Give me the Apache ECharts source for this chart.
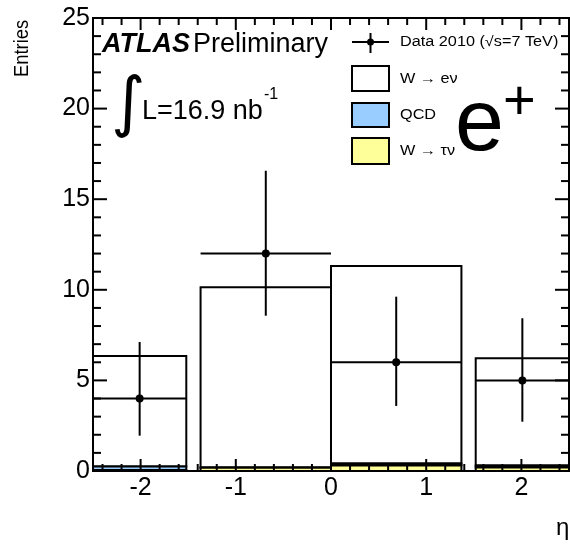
<!DOCTYPE html>
<html>
<head>
<meta charset="utf-8">
<script src="https://cdn.jsdelivr.net/npm/echarts@6/dist/echarts.min.js"></script>
<style>
html,body{margin:0;padding:0;background:#fff;}
#chart{width:570px;height:548px;}
</style>
</head>
<body>
<div id="chart"></div>
<script>
// ---- data ----
const binLo = [-2.5, -1.37, 0, 1.52];
const binHi = [-1.52, 0, 1.37, 2.5];
const wtaunu = [0.05, 0.18, 0.30, 0.20];   // W -> tau nu (yellow)
const qcd    = [0.20, 0.02, 0.12, 0.10];   // QCD (blue)
const wenu   = [6.10, 9.94, 10.89, 5.92];  // W -> e nu (white)
const dataX    = [-2.01, -0.685, 0.685, 2.01];
const dataY    = [4, 12, 6, 5];
const dataLow  = [1.95, 8.57, 3.59, 2.72];
const dataHigh = [7.12, 16.57, 9.62, 8.43];
const xRange = [-2.5, 2.5];
const yRange = [0, 25];
const xMajorTicks = [-2, -1, 0, 1, 2];
const xMinorTicks = [-2.4,-2.2,-1.8,-1.6,-1.4,-1.2,-0.8,-0.6,-0.4,-0.2,0.2,0.4,0.6,0.8,1.2,1.4,1.6,1.8,2.2,2.4];
const yMajorTicks = [0, 5, 10, 15, 20, 25];
const yMinorTicks = [1,2,3,4,6,7,8,9,11,12,13,14,16,17,18,19,21,22,23,24];
const legendLabels = ['Data 2010 (\u221As=7 TeV)', 'W \u2192 e\u03BD', 'QCD', 'W \u2192 \u03C4\u03BD'];

const FONT = 'Liberation Sans, Arial, Helvetica, sans-serif';

// ---- frame layout ----
const W = 570, H = 548;
const G = { left: 93, right: 1, top: 18, bottom: 77 };
const plotW = W - G.left - G.right;
const pxPerUnit = plotW / (xRange[1] - xRange[0]);

function stackBoxes(layers, idx) {
  return binLo.map((lo, i) => {
    let base = 0;
    for (let k = 0; k < idx; k++) base += layers[k][i];
    return [lo, binHi[i], base, base + layers[idx][i]];
  });
}
const layers = [wtaunu, qcd, wenu];
const fills = ['#ffff99', '#99ccff', '#ffffff'];

function boxSeries(idx) {
  return {
    type: 'custom', xAxisIndex: 0, yAxisIndex: 0, clip: true, z: 1,
    encode: { x: [0, 1], y: [2, 3] },
    data: stackBoxes(layers, idx),
    renderItem: function (params, api) {
      const p1 = api.coord([api.value(0), api.value(3)]);
      const p2 = api.coord([api.value(1), api.value(2)]);
      return {
        type: 'rect',
        shape: { x: p1[0], y: p1[1], width: p2[0] - p1[0], height: p2[1] - p1[1] },
        style: { fill: fills[idx], stroke: '#000', lineWidth: 2 }
      };
    }
  };
}

function seg(x1, y1, x2, y2) {
  return { type: 'line', shape: { x1: x1, y1: y1, x2: x2, y2: y2 }, style: { stroke: '#000', lineWidth: 2 } };
}

const dataSeries = {
  type: 'custom', xAxisIndex: 0, yAxisIndex: 0, clip: true, z: 4,
  encode: { x: [0, 4, 5], y: [1, 2, 3] },
  data: dataX.map((x, i) => [x, dataY[i], dataLow[i], dataHigh[i], binLo[i], binHi[i]]),
  renderItem: function (params, api) {
    const x = api.value(0), y = api.value(1);
    const c = api.coord([x, y]);
    const a = api.coord([api.value(4), y]);
    const b = api.coord([api.value(5), y]);
    const d = api.coord([x, api.value(2)]);
    const t = api.coord([x, api.value(3)]);
    return {
      type: 'group',
      children: [
        seg(a[0], a[1], b[0], b[1]),
        seg(t[0], t[1], d[0], d[1]),
        { type: 'circle', shape: { cx: c[0], cy: c[1], r: 4 }, style: { fill: '#000' } }
      ]
    };
  }
};

// ---- grids / axes ----
const grids = [
  Object.assign({ show: true, borderColor: '#000', borderWidth: 2, backgroundColor: 'transparent', containLabel: false }, G),
  { left: G.left + (xMajorTicks[0] - xRange[0]) * pxPerUnit,
    right: G.right + (xRange[1] - xMajorTicks[xMajorTicks.length - 1]) * pxPerUnit,
    top: G.top, bottom: G.bottom, containLabel: false }
];
const xAxes = [
  { gridIndex: 0, type: 'value', min: xRange[0], max: xRange[1], splitLine: { show: false },
    axisLine: { show: false }, axisTick: { show: false }, axisLabel: { show: false } },
  { gridIndex: 1, type: 'value', position: 'bottom', min: xMajorTicks[0], max: xMajorTicks[xMajorTicks.length - 1], interval: 1,
    splitLine: { show: false }, axisLine: { show: false }, axisTick: { show: false },
    axisLabel: { show: true, color: '#000', fontSize: 25, fontFamily: FONT, margin: 5 } }
];
const yAxes = [
  { gridIndex: 0, type: 'value', min: yRange[0], max: yRange[1], interval: 5, splitLine: { show: false },
    axisLine: { show: false }, axisTick: { show: false },
    axisLabel: { show: true, color: '#000', fontSize: 25, fontFamily: FONT, margin: 3 } },
  { gridIndex: 1, type: 'value', show: false, min: 0, max: 1 }
];

// ---- text / legend ----
const lgX = 352, lgW = 37;
const legFont = '14px ' + FONT;
const graphics = [
  { type: 'text', left: 102, top: 31, z: 20, style: { text: 'ATLAS', font: 'italic bold 27px ' + FONT, fill: '#000' } },
  { type: 'text', left: 193, top: 31, z: 20, style: { text: 'Preliminary', font: '27px ' + FONT, fill: '#000' } },
  { type: 'text', left: 111, top: 74, z: 20, style: { text: '\u222B', font: '66px DejaVu Sans', fill: '#000' } },
  { type: 'text', left: 142, top: 98, z: 20, style: { text: 'L=16.9 nb', font: '27px ' + FONT, fill: '#000' } },
  { type: 'text', left: 264, top: 87, z: 20, style: { text: '-1', font: '16px ' + FONT, fill: '#000' } },
  { type: 'line', z: 20, shape: { x1: lgX, y1: 42, x2: lgX + lgW, y2: 42 }, style: { stroke: '#000', lineWidth: 2 } },
  { type: 'line', z: 20, shape: { x1: lgX + lgW / 2, y1: 33, x2: lgX + lgW / 2, y2: 53 }, style: { stroke: '#000', lineWidth: 2 } },
  { type: 'circle', z: 20, shape: { cx: lgX + lgW / 2, cy: 42, r: 3.5 }, style: { fill: '#000' } },
  { type: 'text', x: 400, y: 35, scaleX: 1.16, z: 20, style: { text: legendLabels[0], font: legFont, fill: '#000' } },
  { type: 'rect', z: 20, shape: { x: lgX, y: 66, width: lgW, height: 25 }, style: { fill: fills[2], stroke: '#000', lineWidth: 2 } },
  { type: 'text', x: 400, y: 72, scaleX: 1.16, z: 20, style: { text: legendLabels[1], font: legFont, fill: '#000' } },
  { type: 'rect', z: 20, shape: { x: lgX, y: 103, width: lgW, height: 24 }, style: { fill: fills[1], stroke: '#000', lineWidth: 2 } },
  { type: 'text', x: 400, y: 108, scaleX: 1.16, z: 20, style: { text: legendLabels[2], font: legFont, fill: '#000' } },
  { type: 'rect', z: 20, shape: { x: lgX, y: 138, width: lgW, height: 26 }, style: { fill: fills[0], stroke: '#000', lineWidth: 2 } },
  { type: 'text', x: 400, y: 144, scaleX: 1.16, z: 20, style: { text: legendLabels[3], font: legFont, fill: '#000' } },
  { type: 'text', left: 455, top: 82, z: 20, style: { text: 'e', font: '88px ' + FONT, fill: '#000' } },
  { type: 'text', left: 503, top: 76, z: 20, style: { text: '+', font: '56px ' + FONT, fill: '#000' } },
  { type: 'text', left: 556, top: 516, z: 20, style: { text: '\u03B7', font: '24px ' + FONT, fill: '#000' } },
  { type: 'text', x: 12, y: 77, rotation: Math.PI / 2, scaleX: 0.92, z: 20, style: { text: 'Entries', font: '20px ' + FONT, fill: '#000', textAlign: 'left', textVerticalAlign: 'top' } }
];

const chart = echarts.init(document.getElementById('chart'), null, { renderer: 'canvas' });
chart.setOption({
  animation: false,
  backgroundColor: '#fff',
  grid: grids,
  xAxis: xAxes,
  yAxis: yAxes,
  series: [boxSeries(2), boxSeries(1), boxSeries(0), dataSeries],
  graphic: graphics
});

// ---- inward ticks on all four sides, positioned through the chart's own scales ----
const TICK_LEN = { xMajor: 12, xMinor: 7, yMajor: 14, yMinor: 8 };
function toPx(p) { return chart.convertToPixel({ gridIndex: 0 }, p); }
function tickLine(x1, y1, x2, y2) {
  return { type: 'line', z: 15, silent: true, shape: { x1: x1, y1: y1, x2: x2, y2: y2 }, style: { stroke: '#000', lineWidth: 2 } };
}
const tickGraphics = [];
function addXTicks(vals, len) {
  vals.forEach(v => {
    const b = toPx([v, yRange[0]]), t = toPx([v, yRange[1]]);
    tickGraphics.push(tickLine(b[0], b[1], b[0], b[1] - len));
    tickGraphics.push(tickLine(t[0], t[1], t[0], t[1] + len));
  });
}
function addYTicks(vals, len) {
  vals.forEach(v => {
    const l = toPx([xRange[0], v]), r = toPx([xRange[1], v]);
    tickGraphics.push(tickLine(l[0], l[1], l[0] + len, l[1]));
    tickGraphics.push(tickLine(r[0], r[1], r[0] - len, r[1]));
  });
}
addXTicks(xMajorTicks, TICK_LEN.xMajor);
addXTicks(xMinorTicks, TICK_LEN.xMinor);
addYTicks(yMajorTicks, TICK_LEN.yMajor);
addYTicks(yMinorTicks, TICK_LEN.yMinor);
chart.setOption({ graphic: graphics.concat(tickGraphics) });
</script>
</body>
</html>
